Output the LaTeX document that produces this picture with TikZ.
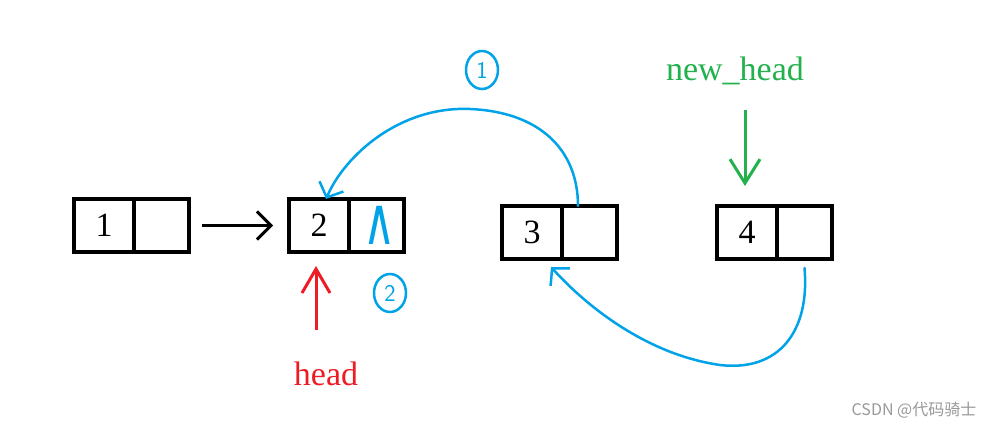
\documentclass[tikz,border=0pt]{standalone}
\usepackage{fontspec}
\setmainfont{Liberation Serif}
\newfontfamily\cjk{Noto Sans CJK SC}
\newfontfamily\symb{DejaVu Sans}
\usetikzlibrary{arrows.meta,positioning,shapes.geometric}
\definecolor{pen}{RGB}{0,162,232}
\definecolor{headred}{RGB}{237,28,36}
\definecolor{newgreen}{RGB}{34,177,76}
\tikzset{
  cell/.style={draw=black,line width=4pt,minimum height=53pt,inner sep=0pt,outer sep=0pt,font=\fontsize{34}{34}\selectfont},
  datacell/.style={cell,minimum width=60pt},
  ptrcell/.style={cell,minimum width=55pt},
  link/.style={line width=3pt,-{Straight Barb[length=14pt,width=28pt]}},
  sketch/.style={draw=pen,line width=2.5pt,line cap=round},
  note/.style={ellipse,draw=pen,line width=2.5pt,text=pen,inner sep=0pt,minimum width=32pt,minimum height=38pt,font=\fontsize{24}{24}\selectfont\sffamily},
  tag/.style={font=\fontsize{34}{34}\selectfont}
}

\begin{document}
\begin{tikzpicture}[x=1pt,y=-1pt]
  \useasboundingbox[fill=white] (0,0) rectangle (999,427);
  % the four list nodes
  \node[datacell] (n1d) at (104,225.5) {1};
  \node[ptrcell,right=0pt of n1d] (n1p) {};
  \node[datacell] (n2d) at (319,225.5) {2};
  \node[ptrcell,right=0pt of n2d,text=pen] (n2p) {\hspace{6pt}\scalebox{1}[1.5]{\symb\fontsize{44}{44}\selectfont ∧}};
  \node[datacell] (n3d) at (532,232.5) {3};
  \node[ptrcell,right=0pt of n3d] (n3p) {};
  \node[datacell] (n4d) at (747,232.5) {4};
  \node[ptrcell,right=0pt of n4d] (n4p) {};

  \draw[link,shorten <=13pt,shorten >=16pt] (n1p.east) -- (n2d.west);

  % head pointers
  \node[tag,text=headred] (head) at (326,374) {head};
  \coordinate (redtail) at (316,330);
  \draw[link,headred,-{Straight Barb[length=24pt,width=28pt]},shorten >=14pt] (redtail) -- (redtail |- n2d.south);
  \node[tag,text=newgreen] (newhead) at (735,71) {new\_head};
  \coordinate (greentail) at (745,110);
  \draw[link,newgreen,-{Straight Barb[length=24pt,width=30pt]},shorten >=20pt] (greentail) -- (greentail |- n4d.north);

  % reversing steps
  \draw[sketch,-{Straight Barb[length=12pt,width=26pt]}] ([xshift=16pt]n3p.north west) .. controls (578,150) and (540,112) .. (470,109)
    .. controls (400,106) and (345,155) .. ([xshift=7pt]n2d.north);
  \draw[sketch,-{Straight Barb[length=12pt,width=26pt]}] ([yshift=-9pt]n4p.south) .. controls (810,330) and (780,372) .. (720,365)
    .. controls (650,355) and (590,310) .. ([xshift=-11pt,yshift=-8pt]n3d.south east);
  \node[note] (step1) at (482,70) {1};
  \node[note] (step2) at (390,293) {2};

  \node[text=black!40,font=\cjk\fontsize{16}{16}\selectfont] (mark) at (914,410) {CSDN @代码骑士};
\end{tikzpicture}
\end{document}
